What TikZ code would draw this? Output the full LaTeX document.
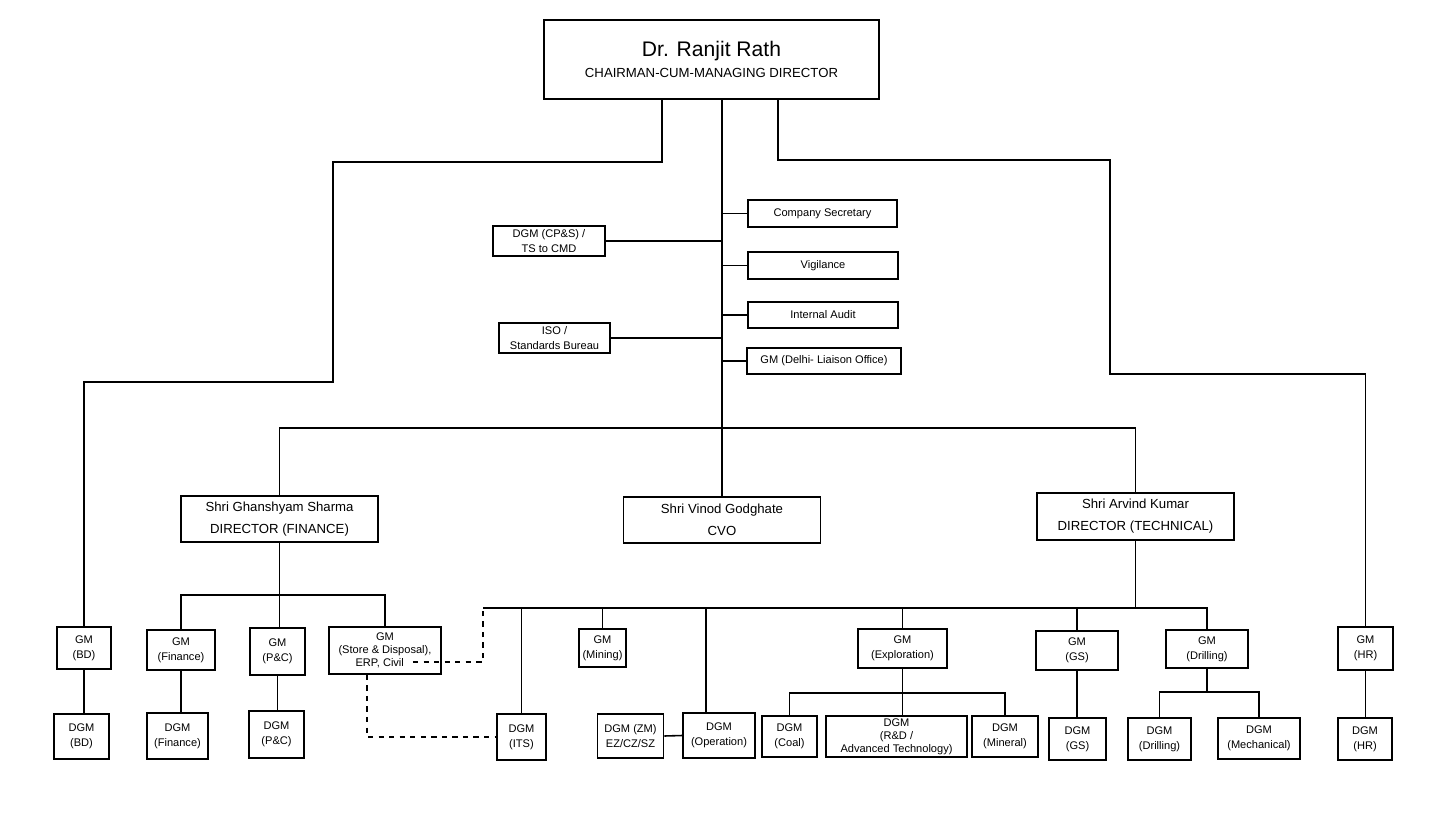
\documentclass[tikz,border=0pt]{standalone}
\usepackage{fontspec}
\setmainfont{Liberation Sans}
\usepackage{tikz}
\usetikzlibrary{positioning}

\begin{document}
\begin{tikzpicture}[x=0.02cm,y=-0.02cm,line width=0.9pt,
   box/.style={draw,rectangle,align=center,inner sep=1pt,font=\fontsize{6.3}{8.5}\selectfont},
   dir/.style={box,font=\fontsize{7.5}{12.5}\selectfont},
   boxsize/.style 2 args={minimum width=#1*0.02cm,minimum height=#2*0.02cm}]
   \useasboundingbox (0,0) rectangle (1454,832);

   % top
   \node[box,boxsize={335}{79}] (cmd) at (711.5,59.5)
      {{\fontsize{12}{14}\selectfont Dr. Ranjit Rath}\\[3pt]{\fontsize{7.5}{9}\selectfont CHAIRMAN-CUM-MANAGING DIRECTOR}};

   % staff of the CMD
   \node[box,boxsize={149}{27}] (cs)   at (822.5,213.5) {Company Secretary};
   \node[box,boxsize={150}{27}] (vig)  at (823,265.5)   {Vigilance};
   \node[box,boxsize={150}{26}] (ia)   at (823,315)     {Internal Audit};
   \node[box,boxsize={154}{26}] (gmdl) at (824,361)     {GM (Delhi- Liaison Office)};
   \node[box,boxsize={112}{30}] (tsc)  at (549,241)     {DGM (CP\&S) /\\TS to CMD};
   \node[box,boxsize={111}{30}] (iso)  at (554.5,338)   {ISO /\\Standards Bureau};

   % directors
   \node[dir,boxsize={197}{46}] (fin)  at (279.5,519)  {Shri Ghanshyam Sharma\\DIRECTOR (FINANCE)};
   \node[dir,boxsize={197}{46}] (cvo)  at (722,520)    {Shri Vinod Godghate\\CVO};
   \node[dir,boxsize={197}{47}] (tech) at (1135.5,516.5) {Shri Arvind Kumar\\DIRECTOR (TECHNICAL)};

   % general managers
   \node[box,boxsize={54}{42}]  (gmbd)  at (84,648)     {GM\\(BD)};
   \node[box,boxsize={68}{40}]  (gmfin) at (181,650)    {GM\\(Finance)};
   \node[box,boxsize={55}{47}]  (gmpc)  at (277.5,651.5) {GM\\(P\&C)};
   \node[box,boxsize={112}{47},font=\fontsize{6.3}{7.3}\selectfont] (gmsd) at (385,650.5)
      {GM\\(Store \& Disposal),\\ERP, Civil\hspace{6pt}\mbox{}};
   \node[box,boxsize={47}{38}]  (gmmin) at (602.5,648)  {GM\\(Mining)};
   \node[box,boxsize={89}{39}]  (gmexp) at (902.5,648.5) {GM\\(Exploration)};
   \node[box,boxsize={82}{39}]  (gmgs)  at (1077,650.5) {GM\\(GS)};
   \node[box,boxsize={82}{38}]  (gmdrl) at (1207,649)   {GM\\(Drilling)};
   \node[box,boxsize={55}{43}]  (gmhr)  at (1365.5,648.5) {GM\\(HR)};

   % deputy general managers
   \node[box,boxsize={55}{45}]  (dgmbd)   at (81.5,736.5)  {DGM\\(BD)};
   \node[box,boxsize={61}{46}]  (dgmfin)  at (177.5,736)   {DGM\\(Finance)};
   \node[box,boxsize={55}{47}]  (dgmpc)   at (276.5,734.5) {DGM\\(P\&C)};
   \node[box,boxsize={49}{46}]  (dgmits)  at (521.5,737)   {DGM\\(ITS)};
   \node[box,boxsize={66}{44}]  (dgmzm)   at (630.5,736)   {DGM (ZM)\\EZ/CZ/SZ};
   \node[box,boxsize={72}{45}]  (dgmop)   at (719,735.5)   {DGM\\(Operation)};
   \node[box,boxsize={55}{41}]  (dgmcoal) at (789.5,736.5) {DGM\\(Coal)};
   \node[box,boxsize={141}{41},font=\fontsize{6.3}{7.3}\selectfont] (dgmrd) at (896.5,736.5)
      {DGM\\(R\&D /\\Advanced Technology)};
   \node[box,boxsize={66}{41}]  (dgmmin)  at (1005,736.5)  {DGM\\(Mineral)};
   \node[box,boxsize={57}{42}]  (dgmgs)   at (1077.5,739)  {DGM\\(GS)};
   \node[box,boxsize={63}{42}]  (dgmdrl)  at (1159.5,739)  {DGM\\(Drilling)};
   \node[box,boxsize={82}{41}]  (dgmmech) at (1259,738.5)  {DGM\\(Mechanical)};
   \node[box,boxsize={54}{42}]  (dgmhr)   at (1365,739)    {DGM\\(HR)};

   % bends and bus lines
   \coordinate (bendL)  at (333,162);
   \coordinate (stepL)  at (333,382);
   \coordinate (bendR)  at (1110,160);
   \coordinate (stepR)  at (1110,374);
   \coordinate (dirbus) at (722,428);
   \coordinate (finbus) at (279.5,595);
   \coordinate (techbus) at (1135.5,608);
   \coordinate (busend) at (483,608);
   \coordinate (expbus) at (902.5,693);
   \coordinate (drlbus) at (1207,692);

   \draw (cvo.north |- cmd.south) -- (cvo.north);
   \draw ([xshift=-0.99cm]cmd.south) |- (bendL) -- (stepL) -| (gmbd.north);
   \draw ([xshift=1.33cm]cmd.south) |- (bendR) -- (stepR) -| (gmhr.north);

   \draw (cs.west)   -- (cs.west -| cvo.north);
   \draw (vig.west)  -- (vig.west -| cvo.north);
   \draw (ia.west)   -- (ia.west -| cvo.north);
   \draw (gmdl.west) -- (gmdl.west -| cvo.north);
   \draw (tsc.east)  -- (tsc.east -| cvo.north);
   \draw (iso.east)  -- (iso.east -| cvo.north);

   \draw (fin.north) |- (dirbus) -| (tech.north);

   \draw (fin.south) -- (fin.south |- gmpc.north);
   \draw (gmfin.north) |- (finbus) -| (gmsd.north);

   \draw (tech.south) -- (techbus);
   \draw (busend) -- (techbus -| gmdrl.north) -- (gmdrl.north);
   \draw (dgmits.north) -- (dgmits.north |- techbus);
   \draw (gmmin.north)  -- (gmmin.north |- techbus);
   \draw ([xshift=-0.26cm]dgmop.north) -- ([xshift=-0.26cm]dgmop.north |- techbus);
   \draw (gmexp.north)  -- (gmexp.north |- techbus);
   \draw (gmgs.north)   -- (gmgs.north |- techbus);

   \draw (gmbd.south)  -- (gmbd.south |- dgmbd.north);
   \draw (gmfin.south) -- (gmfin.south |- dgmfin.north);
   \draw (gmpc.south)  -- (gmpc.south |- dgmpc.north);
   \draw (gmgs.south)  -- (gmgs.south |- dgmgs.north);
   \draw (gmhr.south)  -- (gmhr.south |- dgmhr.north);
   \draw (dgmzm.east)  -- (dgmop.west);

   \draw (gmexp.south) -- (gmexp.south |- dgmrd.north);
   \draw (dgmcoal.north) |- (expbus) -| (dgmmin.north);
   \draw (gmdrl.south) -- (drlbus);
   \draw (dgmdrl.north) |- (drlbus) -| (dgmmech.north);

   \draw[dashed] ([xshift=0.56cm,yshift=-0.23cm]gmsd.center) -| (busend);
   \draw[dashed] ([xshift=-0.36cm]gmsd.south) |- (dgmits.west);
\end{tikzpicture}
\end{document}
